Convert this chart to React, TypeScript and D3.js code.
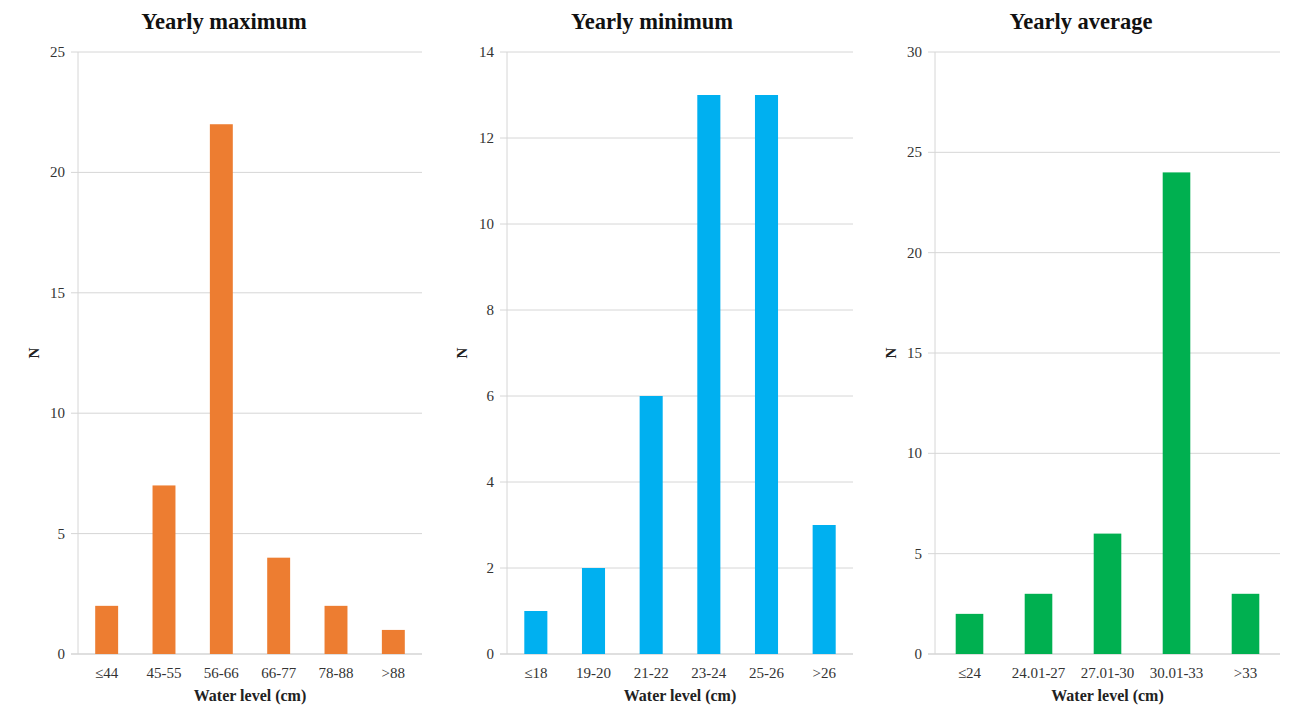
import React from "react";
import * as d3 from "d3";

const maxCategories = ["≤44", "45-55", "56-66", "66-77", "78-88", ">88"];
const maxValues = [2, 7, 22, 4, 2, 1];
const maxTicks = [0, 5, 10, 15, 20, 25];

const minCategories = ["≤18", "19-20", "21-22", "23-24", "25-26", ">26"];
const minValues = [1, 2, 6, 13, 13, 3];
const minTicks = [0, 2, 4, 6, 8, 10, 12, 14];

const avgCategories = ["≤24", "24.01-27", "27.01-30", "30.01-33", ">33"];
const avgValues = [2, 3, 6, 24, 3];
const avgTicks = [0, 5, 10, 15, 20, 25, 30];

const titles = ["Yearly maximum", "Yearly minimum", "Yearly average"];
const xTitle = "Water level (cm)";
const yTitle = "N";

const FONT = "'Liberation Serif', 'Times New Roman', serif";

type PanelProps = {
  title: string;
  cats: string[];
  vals: number[];
  ticks: number[];
  color: string;
  x0: number;
  x1: number;
  nX: number;
  titleX: number;
};

function Panel({ title, cats, vals, ticks, color, x0, x1, nX, titleX }: PanelProps) {
  const top = 52;
  const bottom = 654;
  const y = d3.scaleLinear().domain([0, ticks[ticks.length - 1]]).range([bottom, top]);
  const x = d3.scaleBand().domain(cats).range([x0, x1]).paddingInner(0.6).paddingOuter(0.3);
  const cx = (x0 + x1) / 2;
  return (
    <g>
      <text x={titleX} y={29} textAnchor="middle" fontFamily={FONT} fontWeight="bold" fontSize={22.5} fill="#111">
        {title}
      </text>
      {ticks.map((t) => (
        <g key={t}>
          <line x1={x0 - 7} x2={x1} y1={y(t)} y2={y(t)} stroke={t === 0 ? "#bfbfbf" : "#d6d6d6"} strokeWidth={1} />
          <text x={x0 - 13} y={y(t) + 5} textAnchor="end" fontFamily={FONT} fontSize={15} fill="#333">
            {t}
          </text>
        </g>
      ))}
      <line x1={x0} x2={x0} y1={top} y2={bottom} stroke="#d6d6d6" strokeWidth={1} />
      {cats.map((c, i) => (
        <g key={c}>
          <rect x={x(c)} y={y(vals[i])} width={x.bandwidth()} height={bottom - y(vals[i])} fill={color} />
          <text x={(x(c) as number) + x.bandwidth() / 2} y={678} textAnchor="middle" fontFamily={FONT} fontSize={15} fill="#333">
            {c}
          </text>
        </g>
      ))}
      <text x={cx} y={701} textAnchor="middle" fontFamily={FONT} fontWeight="bold" fontSize={16} fill="#222">
        {xTitle}
      </text>
      <text
        transform={`translate(${nX},${(top + bottom) / 2}) rotate(-90)`}
        textAnchor="middle"
        fontFamily={FONT}
        fontWeight="bold"
        fontSize={15}
        fill="#222"
      >
        {yTitle}
      </text>
    </g>
  );
}

export default function App() {
  return (
    <svg width={1289} height={706} style={{ position: "absolute", left: 0, top: 0, background: "#fff" }}>
      <rect width={1289} height={706} fill="#fff" />
      <Panel title={titles[0]} cats={maxCategories} vals={maxValues} ticks={maxTicks} color="#ED7D31" x0={78} x1={422} nX={39} titleX={224} />
      <Panel title={titles[1]} cats={minCategories} vals={minValues} ticks={minTicks} color="#00B0F0" x0={507} x1={853} nX={467} titleX={652} />
      <Panel title={titles[2]} cats={avgCategories} vals={avgValues} ticks={avgTicks} color="#00B050" x0={935} x1={1280} nX={896} titleX={1081} />
    </svg>
  );
}
